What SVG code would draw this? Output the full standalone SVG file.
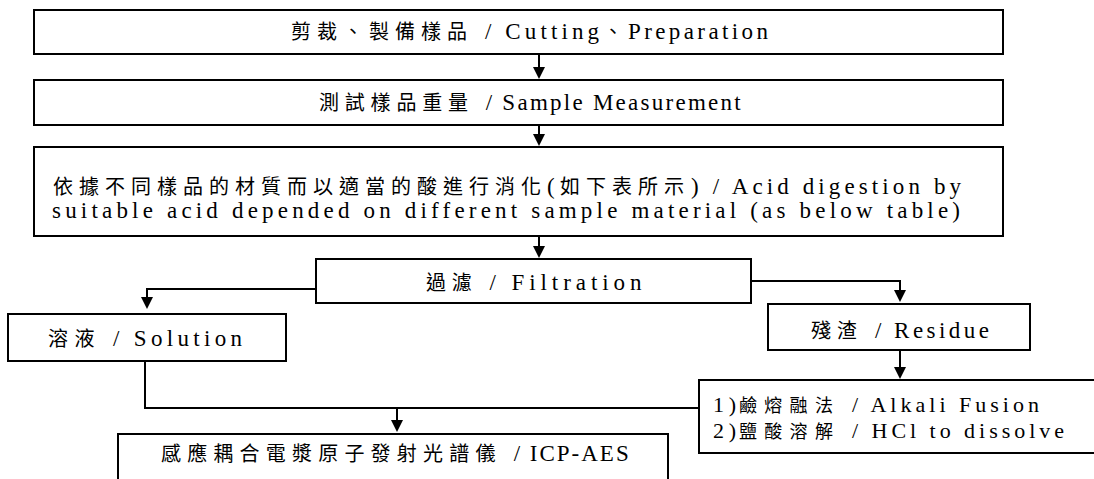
<svg xmlns="http://www.w3.org/2000/svg" width="1094" height="479" viewBox="0 0 1094 479">
<defs>
<style>
.box{fill:#fff;stroke:#000;stroke-width:2}
.t{font-family:"Liberation Serif",serif;font-size:23px;fill:#000}
.s{font-size:22px}
.c{font-family:"Noto Sans CJK TC","Noto Sans CJK SC",sans-serif;font-size:20px;letter-spacing:6px;fill:#000}
.cs{font-size:18px;letter-spacing:7.3px}
.ln{fill:none;stroke:#000;stroke-width:2}
.ah{fill:#000}
</style>
</defs>
<rect width="1094" height="479" fill="#fff"/>
<g id="connectors">
<line class="ln" x1="539" y1="54" x2="539" y2="67"/>
<path class="ah" d="M533,67 L545,67 L539,79 Z"/>
<line class="ln" x1="539" y1="125" x2="539" y2="134"/>
<path class="ah" d="M533,134 L545,134 L539,146 Z"/>
<line class="ln" x1="539" y1="236" x2="539" y2="246"/>
<path class="ah" d="M533,246 L545,246 L539,258 Z"/>
<polyline class="ln" points="316,289 147,289 147,297"/>
<path class="ah" d="M141,297 L153,297 L147,309 Z"/>
<polyline class="ln" points="751,281 900,281 900,290"/>
<path class="ah" d="M894,290 L906,290 L900,302 Z"/>
<line class="ln" x1="900" y1="350" x2="900" y2="367"/>
<path class="ah" d="M894,367 L906,367 L900,379 Z"/>
<polyline class="ln" points="145,361 145,408 699,408"/>
<line class="ln" x1="397" y1="408" x2="397" y2="420"/>
<path class="ah" d="M391,420 L403,420 L397,432 Z"/>
</g>
<g id="n1">
<rect class="box" x="34" y="10" width="969" height="44"/>
<text class="c" x="291" y="39">剪裁、製備樣品</text>
<text class="t" x="485" y="39" textLength="114" lengthAdjust="spacing">/ Cutting</text>
<text class="c" x="603" y="39">、</text>
<text class="t" x="628" y="39" textLength="140" lengthAdjust="spacing">Preparation</text>
</g>
<g id="n2">
<rect class="box" x="34" y="80" width="969" height="45"/>
<text class="c" x="319" y="110" style="letter-spacing:5.8px">測試樣品重量</text>
<text class="t" x="485.7" y="110" textLength="255" lengthAdjust="spacing">/ Sample Measurement</text>
</g>
<g id="n3">
<rect class="box" x="34" y="147" width="969" height="89"/>
<text class="c" x="53" y="194">依據不同樣品的材質而以適當的酸進行消化</text>
<text class="t" x="547" y="194">(</text>
<text class="c" x="560" y="194">如下表所示</text>
<text class="t" x="691" y="194" textLength="270" lengthAdjust="spacing">) / Acid digestion by</text>
<text class="t" x="52" y="218" textLength="908" lengthAdjust="spacing">suitable acid depended on different sample material (as below table)</text>
</g>
<g id="n4">
<rect class="box" x="316" y="259" width="435" height="44"/>
<text class="c" x="426" y="290" style="letter-spacing:5.8px">過濾</text>
<text class="t" x="489.5" y="290" textLength="152" lengthAdjust="spacing">/ Filtration</text>
</g>
<g id="n5">
<rect class="box" x="8" y="314" width="278" height="47"/>
<text class="c" x="48" y="346" style="letter-spacing:6.4px">溶液</text>
<text class="t" x="113" y="346" textLength="129" lengthAdjust="spacing">/ Solution</text>
</g>
<g id="n6">
<rect class="box" x="768" y="304" width="262" height="46"/>
<text class="c" x="811" y="338">殘渣</text>
<text class="t" x="875" y="338" textLength="114" lengthAdjust="spacing">/ Residue</text>
</g>
<g id="n7">
<rect class="box" x="699" y="380" width="420" height="73"/>
<text class="t s" x="713" y="412" textLength="23" lengthAdjust="spacing">1)</text>
<text class="c cs" x="739" y="412">鹼熔融法</text>
<text class="t s" x="852" y="412" textLength="187" lengthAdjust="spacing">/ Alkali Fusion</text>
<text class="t s" x="713" y="438" textLength="23" lengthAdjust="spacing">2)</text>
<text class="c cs" x="739" y="438">鹽酸溶解</text>
<text class="t s" x="852" y="438" textLength="212" lengthAdjust="spacing">/ HCl to dissolve</text>
</g>
<g id="n8">
<rect class="box" x="118" y="434" width="550" height="70"/>
<text class="c" x="161" y="461" style="letter-spacing:6.2px">感應耦合電漿原子發射光譜儀</text>
<text class="t" x="513.7" y="461" textLength="115" lengthAdjust="spacing">/ ICP-AES</text>
</g>
</svg>
